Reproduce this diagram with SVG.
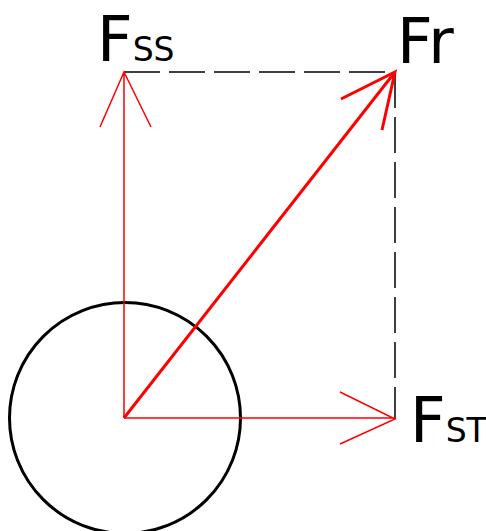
<svg xmlns="http://www.w3.org/2000/svg" width="486" height="531" viewBox="0 0 486 531">
<style>
.v{stroke:#ff0000;fill:none;stroke-width:1.5}
.w{stroke:#ff0000;fill:none;stroke-width:3}
.d{stroke:#000;fill:none;stroke-width:1.5;stroke-dasharray:36 9}
.t{font-family:"DejaVu Sans",sans-serif;fill:#000}
</style>
<rect width="486" height="531" fill="#fff"/>
<g id="circle"><circle cx="125" cy="418" r="115.5" fill="none" stroke="#000" stroke-width="3"/></g>
<g id="guides">
<path class="d" d="M124,72 H395"/>
<path class="d" d="M395,72 V419"/>
</g>
<g id="connectors">
<path class="v" d="M124,418 V72 M100,127 L124,72 L151,127"/>
<path class="v" d="M124,418 H395 M340,392 L395,419 L340,444"/>
<path class="w" d="M124,418 L395,72 M341,99 L395,72 L382,130"/>
</g>
<g id="Fss"><text class="t" x="97" y="61" font-size="62">F<tspan font-size="33">SS</tspan></text></g>
<g id="Fr"><text class="t" x="397" y="63" font-size="62">Fr</text></g>
<g id="Fst"><text class="t" x="410" y="442" font-size="62">F<tspan font-size="33">ST</tspan></text></g>
</svg>
